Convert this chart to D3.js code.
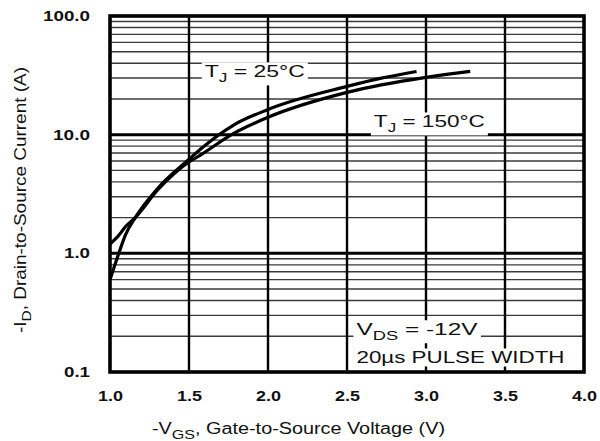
<!DOCTYPE html>
<html><head><meta charset="utf-8">
<script src="https://cdn.jsdelivr.net/npm/d3@7"></script>
<style>body{margin:0;background:#fff}</style>
</head><body><svg id="c" width="600" height="441"></svg>
<script>
const xTicks = [1.0, 1.5, 2.0, 2.5, 3.0, 3.5, 4.0];
const yTicks = [0.1, 1, 10, 100];
const vgs25 = [1.0, 1.05, 1.1, 1.16, 1.3, 1.5, 1.57, 1.78, 2.0, 2.5, 2.71, 2.94];
const id25  = [0.6, 0.95, 1.45, 2.0, 3.5, 6.2, 7.5, 12.0, 16.3, 25.5, 29.8, 34.1];
const vgs150 = [1.0, 1.05, 1.1, 1.16, 1.3, 1.5, 1.57, 1.78, 2.0, 2.5, 3.0, 3.28];
const id150  = [1.2, 1.39, 1.69, 2.0, 3.4, 5.9, 6.7, 10.2, 14.0, 22.7, 30.4, 34.1];

const svg = d3.select("#c");
const L = 110, R = 584, T = 16, B = 372;
const x = d3.scaleLinear().domain([1, 4]).range([L, R]);
const y = d3.scaleLog().domain([0.1, 100]).range([B, T]);

// minor horizontal grid
const minor = [];
[0.1, 1, 10].forEach(d => { for (let k = 2; k <= 9; k++) minor.push(d * k); });
svg.append("g").selectAll("line").data(minor).join("line")
  .attr("x1", L).attr("x2", R).attr("y1", d => y(d)).attr("y2", d => y(d))
  .attr("stroke", "#3a3a3a").attr("stroke-width", 1.4);
// decade lines
svg.append("g").selectAll("line").data(yTicks.slice(1, 3)).join("line")
  .attr("x1", L).attr("x2", R).attr("y1", d => y(d)).attr("y2", d => y(d))
  .attr("stroke", "#000").attr("stroke-width", 3);
// vertical grid
svg.append("g").selectAll("line").data(xTicks.slice(1, -1)).join("line")
  .attr("x1", d => x(d)).attr("x2", d => x(d)).attr("y1", T).attr("y2", B)
  .attr("stroke", "#000").attr("stroke-width", 2.4);

// annotations with white backgrounds
const font = "'Liberation Sans', Arial, sans-serif";
function label(parts, vx, vy, len) {
  const g = svg.append("g");
  const bg = g.append("rect").attr("fill", "#fff");
  const t = g.append("text").attr("x", x(vx)).attr("y", y(vy))
    .attr("font-family", font).attr("font-size", 16).attr("fill", "#111");
  parts.forEach(p => {
    const s = t.append("tspan").text(p[0]);
    if (p[1] === "sub") s.attr("font-size", 12).attr("dy", 5);
    else if (p[1] === "up") s.attr("dy", -5);
  });
  if (len) t.attr("textLength", len).attr("lengthAdjust", "spacingAndGlyphs");
  const b = t.node().getBBox();
  bg.attr("x", b.x - 3).attr("y", b.y - 1).attr("width", b.width + 6).attr("height", b.height + 1);
  return g;
}
label([["T"], ["J", "sub"], [" = 25°C", "up"]], 1.60, 30.4, 100);
label([["T"], ["J", "sub"], [" = 150°C", "up"]], 2.67, 11.5, 111);
label([["V"], ["DS", "sub"], [" = -12V", "up"]], 2.56, 0.204, 121);
label([["20µs PULSE WIDTH"]], 2.56, 0.118, 208);

// curves
const line = d3.line().x(d => x(d[0])).y(d => y(d[1])).curve(d3.curveMonotoneX);
[[vgs25, id25], [vgs150, id150]].forEach(([vx, vy]) => {
  svg.append("path").attr("d", line(vx.map((v, i) => [v, vy[i]])))
    .attr("fill", "none").attr("stroke", "#000").attr("stroke-width", 3.2);
});

// frame
svg.append("rect").attr("x", L).attr("y", T).attr("width", R - L).attr("height", B - T)
  .attr("fill", "none").attr("stroke", "#000").attr("stroke-width", 3.6);

// axes labels
const ya = svg.append("g").attr("transform", `translate(${L},0)`)
  .call(d3.axisLeft(y).tickValues(yTicks).tickFormat(d3.format(".1f")).tickSize(0).tickPadding(20));
ya.select(".domain").remove();
ya.selectAll("text").attr("font-family", font).attr("font-size", 14).attr("font-weight", "bold").attr("fill", "#111")
  .each(function(d) { d3.select(this).attr("textLength", d === 100 ? 47 : d === 10 ? 37 : 26).attr("lengthAdjust", "spacingAndGlyphs"); });
const xa = svg.append("g").attr("transform", `translate(0,${B})`)
  .call(d3.axisBottom(x).tickValues(xTicks).tickFormat(d3.format(".1f")).tickSize(0).tickPadding(19));
xa.select(".domain").remove();
xa.selectAll("text").attr("font-family", font).attr("font-size", 14).attr("font-weight", "bold").attr("fill", "#111")
  .attr("textLength", 25).attr("lengthAdjust", "spacingAndGlyphs");

// axis titles
const xt = svg.append("text").attr("x", 152).attr("y", 434)
  .attr("font-family", font).attr("font-size", 16).attr("fill", "#111");
xt.append("tspan").text("-V");
xt.append("tspan").text("GS").attr("font-size", 13).attr("dy", 5);
xt.append("tspan").text(", Gate-to-Source Voltage (V)").attr("dy", -5);
xt.attr("textLength", 293).attr("lengthAdjust", "spacingAndGlyphs");

const yt = svg.append("text").attr("transform", "translate(26,333) rotate(-90)")
  .attr("font-family", font).attr("font-size", 16).attr("fill", "#111");
yt.append("tspan").text("-I");
yt.append("tspan").text("D").attr("font-size", 13).attr("dy", 5);
yt.append("tspan").text(", Drain-to-Source Current  (A)").attr("dy", -5);
yt.attr("textLength", 266).attr("lengthAdjust", "spacingAndGlyphs");
</script></body></html>
